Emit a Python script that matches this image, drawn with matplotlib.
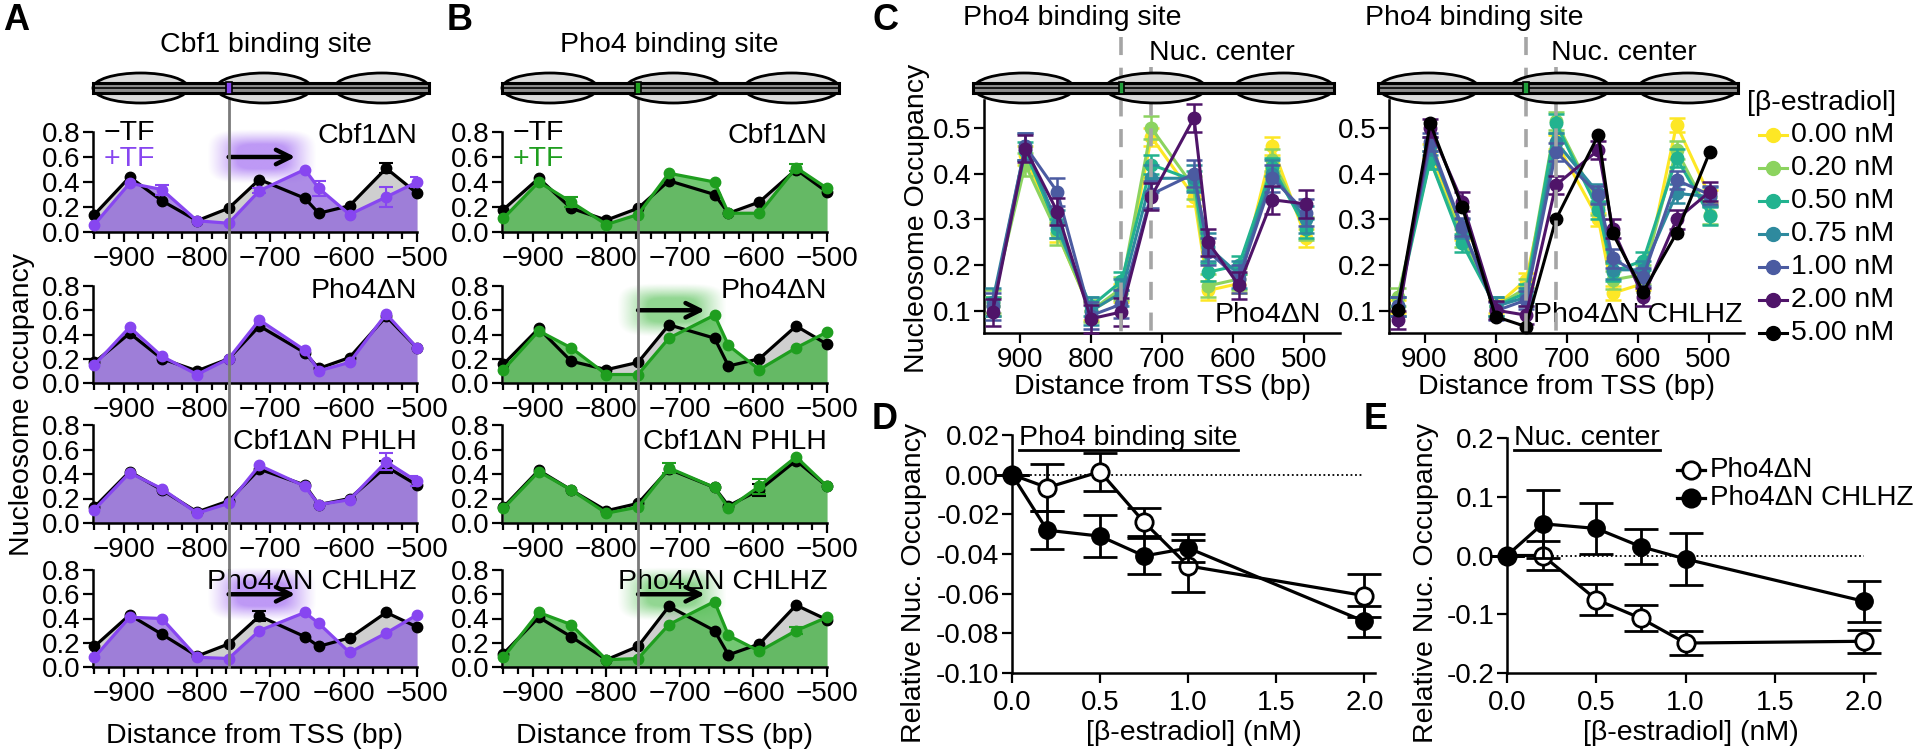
import numpy as np
import matplotlib
matplotlib.use("Agg")
import matplotlib.pyplot as plt
from matplotlib.patches import Ellipse, Rectangle
from matplotlib.lines import Line2D
from matplotlib.ticker import FormatStrFormatter

plt.rcParams['font.family'] = ['Liberation Sans', 'DejaVu Sans']
plt.rcParams['axes.linewidth'] = 1.8

# ---- data -------------------------------------------------------------
pos_a = [-940, -892, -848, -800, -757, -715, -653, -634, -592, -542, -500]
row_names = ['Cbf1ΔN', 'Pho4ΔN', 'Cbf1ΔN PHLH', 'Pho4ΔN CHLHZ']

# panel A (Cbf1 binding site), -TF / +TF
a1_minus = [0.14, 0.44, 0.25, 0.09, 0.19, 0.42, 0.27, 0.15, 0.21, 0.51, 0.31]
a1_plus = [0.06, 0.39, 0.34, 0.09, 0.07, 0.33, 0.50, 0.35, 0.14, 0.28, 0.40]
a2_minus = [0.17, 0.41, 0.20, 0.10, 0.20, 0.47, 0.25, 0.12, 0.21, 0.55, 0.29]
a2_plus = [0.15, 0.46, 0.22, 0.07, 0.20, 0.52, 0.27, 0.10, 0.17, 0.57, 0.29]
a3_minus = [0.13, 0.42, 0.27, 0.09, 0.18, 0.44, 0.31, 0.15, 0.20, 0.46, 0.31]
a3_plus = [0.11, 0.41, 0.28, 0.08, 0.16, 0.47, 0.30, 0.15, 0.19, 0.50, 0.34]
a4_minus = [0.17, 0.43, 0.27, 0.09, 0.19, 0.42, 0.25, 0.17, 0.24, 0.45, 0.33]
a4_plus = [0.08, 0.41, 0.40, 0.08, 0.07, 0.30, 0.45, 0.36, 0.12, 0.28, 0.43]
a1_minus_err = [0, 0, 0, 0, 0, 0, 0, 0, 0, 0.04, 0]
a1_plus_err = [0, 0, 0.04, 0, 0, 0.02, 0, 0.06, 0, 0.08, 0.04]
a3_minus_err = [0, 0, 0, 0, 0, 0, 0, 0, 0, 0.05, 0]
a3_plus_err = [0, 0, 0, 0, 0, 0, 0, 0, 0, 0.07, 0.04]
a4_minus_err = [0, 0, 0, 0, 0, 0.04, 0, 0, 0, 0, 0]

# panel B (Pho4 binding site)
b1_minus = [0.18, 0.43, 0.19, 0.095, 0.19, 0.41, 0.30, 0.15, 0.24, 0.50, 0.32]
b1_plus = [0.11, 0.40, 0.24, 0.06, 0.14, 0.47, 0.40, 0.15, 0.15, 0.515, 0.35]
b2_minus = [0.155, 0.45, 0.18, 0.11, 0.17, 0.48, 0.37, 0.14, 0.20, 0.47, 0.32]
b2_plus = [0.11, 0.43, 0.29, 0.07, 0.07, 0.37, 0.56, 0.31, 0.11, 0.29, 0.42]
b3_minus = [0.13, 0.43, 0.27, 0.10, 0.16, 0.44, 0.29, 0.14, 0.27, 0.51, 0.30]
b3_plus = [0.12, 0.42, 0.27, 0.08, 0.13, 0.45, 0.29, 0.12, 0.30, 0.54, 0.30]
b4_minus = [0.11, 0.41, 0.25, 0.06, 0.17, 0.50, 0.30, 0.10, 0.19, 0.51, 0.39]
b4_plus = [0.08, 0.45, 0.35, 0.06, 0.07, 0.35, 0.54, 0.26, 0.13, 0.30, 0.41]
b1_plus_err = [0, 0, 0.04, 0, 0, 0, 0, 0, 0, 0.03, 0]
b3_minus_err = [0, 0, 0, 0, 0, 0, 0, 0, 0.05, 0, 0]
b3_plus_err = [0, 0, 0, 0, 0, 0.04, 0, 0, 0.06, 0, 0]
b4_plus_err = [0, 0, 0, 0, 0, 0, 0, 0, 0, 0.03, 0]

# panel C (titration)
pos_c = [938, 892, 847, 800, 757, 715, 655, 635, 592, 545, 498]
conc_labels = ['0.00 nM', '0.20 nM', '0.50 nM', '0.75 nM', '1.00 nM', '2.00 nM', '5.00 nM']
conc_colors = ['#FDE725', '#8CD35F', '#22B38F', '#2E8A9E', '#4B5BA1', '#4F1469', '#000000']
c_left_000 = [0.11, 0.44, 0.27, 0.10, 0.14, 0.48, 0.35, 0.145, 0.16, 0.46, 0.26]
c_left_020 = [0.12, 0.42, 0.27, 0.10, 0.15, 0.50, 0.37, 0.155, 0.17, 0.43, 0.28]
c_left_050 = [0.11, 0.45, 0.28, 0.11, 0.165, 0.42, 0.385, 0.185, 0.20, 0.415, 0.28]
c_left_075 = [0.12, 0.46, 0.29, 0.10, 0.14, 0.39, 0.39, 0.24, 0.18, 0.40, 0.30]
c_left_100 = [0.11, 0.46, 0.36, 0.09, 0.115, 0.355, 0.40, 0.23, 0.17, 0.39, 0.315]
c_left_200 = [0.097, 0.455, 0.317, 0.083, 0.098, 0.35, 0.522, 0.25, 0.156, 0.343, 0.334]
c_right_000 = [0.11, 0.45, 0.27, 0.11, 0.168, 0.47, 0.30, 0.139, 0.16, 0.507, 0.35]
c_right_020 = [0.13, 0.43, 0.26, 0.11, 0.15, 0.515, 0.33, 0.168, 0.18, 0.452, 0.31]
c_right_050 = [0.11, 0.43, 0.248, 0.11, 0.14, 0.51, 0.32, 0.186, 0.21, 0.434, 0.308]
c_right_075 = [0.11, 0.46, 0.28, 0.11, 0.13, 0.47, 0.357, 0.19, 0.19, 0.357, 0.35]
c_right_100 = [0.11, 0.47, 0.284, 0.10, 0.124, 0.448, 0.354, 0.215, 0.175, 0.386, 0.354]
c_right_200 = [0.08, 0.50, 0.339, 0.102, 0.091, 0.375, 0.452, 0.28, 0.131, 0.30, 0.361]
c_right_500 = [0.102, 0.51, 0.328, 0.088, 0.066, 0.30, 0.485, 0.27, 0.142, 0.27, 0.448]
c_left_err = [0.02, 0.025, 0.02, 0.03, 0.03, 0.03]
c_right_err = [0.015, 0.02, 0.02, 0.02, 0.02, 0.02, 0.0]

# panels D and E (relative occupancy)
estradiol = [0, 0.2, 0.5, 0.75, 1.0, 2.0]
d_pho4 = [0, -0.0065, 0.0015, -0.024, -0.046, -0.061]
d_pho4_err = [0, 0.012, 0.0095, 0.007, 0.013, 0.011]
d_chlhz = [0, -0.028, -0.031, -0.041, -0.037, -0.074]
d_chlhz_err = [0, 0.0095, 0.0105, 0.009, 0.007, 0.008]
e_pho4 = [0, 0.0, -0.075, -0.107, -0.149, -0.146]
e_pho4_err = [0, 0.024, 0.026, 0.022, 0.02, 0.02]
e_chlhz = [0, 0.054, 0.046, 0.015, -0.006, -0.078]
e_chlhz_err = [0, 0.058, 0.044, 0.03, 0.044, 0.035]

# ---- layout helpers ---------------------------------------------------
W, H = 1920, 752
fig = plt.figure(figsize=(W / 100, H / 100), dpi=100)

FS = 20      # tick labels
LFS = 20.5   # axis labels and headings
PURPLE, PURPLE_FILL = '#8746F0', '#8a5cdc'
GREEN, GREEN_FILL = '#1f9e1f', '#38b138'


def add_ax(l, t, r, b):
    return fig.add_axes([l / W, 1 - b / H, (r - l) / W, (b - t) / H])


def fx(x):
    return x / W


def fy(y):
    return 1 - y / H


def style_spines(ax):
    ax.spines['top'].set_visible(False)
    ax.spines['right'].set_visible(False)
    ax.tick_params(which='both', direction='out', width=1.6, labelsize=FS)
    ax.tick_params(which='major', length=7)
    ax.tick_params(which='minor', length=5)


def glow(ax, x0, x1, y0, y1, rgb):
    # soft halo behind the shift arrow
    gx = np.linspace(-1, 1, 240)
    gy = np.linspace(-1, 1, 120)
    X, Y = np.meshgrid(gx, gy)
    d = (X ** 4 + Y ** 4) ** 0.25
    a = np.clip((1 - d) / 0.55, 0, 1) ** 1.2
    img = np.zeros((120, 240, 4))
    img[..., :3] = rgb
    img[..., 3] = 0.62 * a
    ax.imshow(img, extent=(x0, x1, y0, y1), aspect='auto',
              interpolation='bilinear', zorder=2.5, clip_on=False)


def draw_series(ax, y, err, color, z):
    ax.plot(pos_a, y, color=color, lw=2.3, marker='o', ms=7.5, zorder=z, clip_on=False)
    if err is not None:
        idx = [i for i, e in enumerate(err) if e > 0]
        ax.errorbar([pos_a[i] for i in idx], [y[i] for i in idx],
                    yerr=[err[i] for i in idx], fmt='none', ecolor=color,
                    elinewidth=1.5, capsize=5, capthick=1.5, zorder=z)


def occupancy_row(ax, name, minus, plus, color, fill, glow_rgb,
                  minus_err=None, plus_err=None, arrow=False, label_y=0.77):
    ax.fill_between(pos_a, minus, 0, color='#cfcfcf', lw=0, zorder=1)
    ax.fill_between(pos_a, plus, 0, color=fill, alpha=0.7, lw=0, zorder=2)
    if arrow:
        glow(ax, -786, -637, 0.38, 0.82, glow_rgb)
        ax.annotate('', xy=(-666, 0.6), xytext=(-757, 0.6), annotation_clip=False,
                    arrowprops=dict(arrowstyle='->', lw=3.2, color='black',
                                    mutation_scale=26, shrinkA=0, shrinkB=0),
                    zorder=6)
    draw_series(ax, minus, minus_err, 'black', 3)
    draw_series(ax, plus, plus_err, color, 4)
    ax.text(-500, label_y, name, ha='right', va='center', fontsize=LFS)
    ax.set_xlim(-942, -500)
    ax.set_ylim(0, 0.8)
    ax.set_xticks([-900, -800, -700, -600, -500])
    ax.set_xticks(np.arange(-940, -500, 20), minor=True)
    ax.set_yticks([0, 0.2, 0.4, 0.6, 0.8])
    ax.yaxis.set_major_formatter(FormatStrFormatter('%.1f'))
    style_spines(ax)
    ax.tick_params(axis='y', pad=2)
    ax.tick_params(axis='x', pad=3)


def diagram(l, r, xlim, bar, centers, width, site, site_color):
    ax = add_ax(l, 68, r, 108)
    ax.set_zorder(5)
    ax.set_xlim(xlim)
    ax.set_ylim(-1, 1)
    ax.axis('off')
    for c in centers:
        ax.add_patch(Ellipse((c, 0), width, 1.5, fc='#dcdcdc', ec='black',
                             lw=2, clip_on=False))
    ax.add_patch(Rectangle((min(bar), -0.24), abs(bar[1] - bar[0]), 0.48,
                           fc='#8c8c8c', ec='black', lw=2.2, clip_on=False))
    ax.plot(bar, [0, 0], color='black', lw=1.2, clip_on=False)
    ax.add_patch(Rectangle((site - 4, -0.28), 8, 0.56, fc=site_color,
                           ec='black', lw=1.2, clip_on=False, zorder=4))
    return ax


def fig_x(ax, x):
    px = ax.transData.transform((x, 0))[0]
    return px / W


# ---- panels A and B ---------------------------------------------------
row_px = [(132, 232), (286, 383), (425, 523), (570, 667)]
label_ys = [0.77, 0.76, 0.66, 0.70]

panels = [
    (93, 417, PURPLE, PURPLE_FILL, (150 / 255, 90 / 255, 240 / 255),
     [(a1_minus, a1_plus, a1_minus_err, a1_plus_err, True),
      (a2_minus, a2_plus, None, None, False),
      (a3_minus, a3_plus, a3_minus_err, a3_plus_err, False),
      (a4_minus, a4_plus, a4_minus_err, None, True)]),
    (502, 827, GREEN, GREEN_FILL, (80 / 255, 190 / 255, 80 / 255),
     [(b1_minus, b1_plus, None, b1_plus_err, False),
      (b2_minus, b2_plus, None, None, True),
      (b3_minus, b3_plus, b3_minus_err, b3_plus_err, False),
      (b4_minus, b4_plus, None, b4_plus_err, True)]),
]

for l, r, color, fill, grgb, rows in panels:
    first = None
    for i, (mn, pl, mn_err, pl_err, arrow) in enumerate(rows):
        t, b = row_px[i]
        ax = add_ax(l, t, r, b)
        occupancy_row(ax, row_names[i], mn, pl, color, fill, grgb,
                      mn_err, pl_err, arrow, label_ys[i])
        if first is None:
            first = ax
    diagram(l, r, (-942, -500), (-942, -484), [-877, -709, -548], 130, -757, color)
    xline = fig_x(first, -757)
    fig.add_artist(Line2D([xline, xline], [fy(88), fy(667)], color='#7a7a7a',
                          lw=2, zorder=1))
    fig.text(fx(l + 11), fy(133), '−TF', color='black', fontsize=LFS, va='center')
    fig.text(fx(l + 11), fy(159), '+TF', color=color, fontsize=LFS, va='center')

fig.text(fx(266), fy(45), 'Cbf1 binding site', ha='center', va='center', fontsize=LFS)
fig.text(fx(669), fy(45), 'Pho4 binding site', ha='center', va='center', fontsize=LFS)
fig.text(fx(22), fy(405), 'Nucleosome occupancy', rotation=90, ha='center',
         va='center', fontsize=LFS)
fig.text(fx(255), fy(736), 'Distance from TSS (bp)', ha='center', va='center', fontsize=LFS)
fig.text(fx(665), fy(736), 'Distance from TSS (bp)', ha='center', va='center', fontsize=LFS)

# ---- panel C ----------------------------------------------------------
c_left = [c_left_000, c_left_020, c_left_050, c_left_075, c_left_100, c_left_200]
c_right = [c_right_000, c_right_020, c_right_050, c_right_075, c_right_100,
           c_right_200, c_right_500]

for l, r, series, errs, name, name_x in [
        (984, 1340, c_left, c_left_err, 'Pho4ΔN', 476),
        (1389, 1744, c_right, c_right_err, 'Pho4ΔN CHLHZ', 452)]:
    ax = add_ax(l, 100, r, 333)
    for k, ys in enumerate(series):
        ax.errorbar(pos_c, ys, yerr=errs[k] if errs[k] > 0 else None,
                    color=conc_colors[k], lw=2.2, marker='o', ms=9,
                    elinewidth=1.8, capsize=6, capthick=1.8, zorder=3 + k,
                    clip_on=False)
    ax.set_xlim(950, 450)
    ax.set_ylim(0.052, 0.561)
    ax.set_xticks([900, 800, 700, 600, 500])
    ax.set_yticks([0.1, 0.2, 0.3, 0.4, 0.5])
    ax.yaxis.set_major_formatter(FormatStrFormatter('%.1f'))
    style_spines(ax)
    ax.tick_params(axis='y', pad=2)
    ax.tick_params(axis='x', pad=3)
    ax.text(name_x, 0.062, name, ha='right', va='bottom', fontsize=LFS)
    ax.set_xlabel('Distance from TSS (bp)', fontsize=LFS, labelpad=1)
    diagram(l, r, (950, 450), (966, 458), [894, 709, 529], 141, 757, '#1f9e3a')
    xb = fig_x(ax, 757)
    xn = fig_x(ax, 715)
    fig.add_artist(Line2D([xb, xb], [fy(37), fy(333)], color='#a5a5a5', lw=2.6,
                          ls=(0, (5, 3.5)), zorder=1))
    fig.add_artist(Line2D([xn, xn], [fy(67), fy(333)], color='#a5a5a5', lw=2.6,
                          ls=(0, (5, 3.5)), zorder=1))

fig.text(fx(1072), fy(18), 'Pho4 binding site', ha='center', va='center', fontsize=LFS)
fig.text(fx(1474), fy(18), 'Pho4 binding site', ha='center', va='center', fontsize=LFS)
fig.text(fx(1222), fy(53), 'Nuc. center', ha='center', va='center', fontsize=LFS)
fig.text(fx(1624), fy(53), 'Nuc. center', ha='center', va='center', fontsize=LFS)
fig.text(fx(917), fy(218), 'Nucleosome Occupancy', rotation=90, ha='center',
         va='center', fontsize=LFS)

# legend for C
fig.text(fx(1747), fy(103), '[β-estradiol]', ha='left', va='center', fontsize=LFS)
for k, lab in enumerate(conc_labels):
    yy = fy(135 + k * 33)
    fig.add_artist(Line2D([fx(1759), fx(1787)], [yy, yy], color=conc_colors[k], lw=2.2))
    fig.add_artist(Line2D([fx(1773)], [yy], color=conc_colors[k], marker='o', ms=10))
    fig.text(fx(1791), yy, lab, ha='left', va='center', fontsize=LFS)


# ---- panels D and E ---------------------------------------------------
def relative_panel(l, r, t, b, ylim, yticks, fmt, pho4, pho4_err, chlhz, chlhz_err):
    ax = add_ax(l, t, r, b)
    ax.plot([0, 2.0], [0, 0], color='black', lw=1.3, ls=(0, (1, 1.5)), zorder=1)
    ax.errorbar(estradiol, pho4, yerr=pho4_err, color='black', lw=2.3, marker='o',
                ms=12.5, mfc='white', mec='black', mew=2, elinewidth=2, capsize=12,
                capthick=2, zorder=3, clip_on=False)
    ax.errorbar(estradiol, chlhz, yerr=chlhz_err, color='black', lw=2.3, marker='o',
                ms=12.5, elinewidth=2, capsize=12, capthick=2, zorder=4, clip_on=False)
    ax.set_xlim(0, 2.06)
    ax.set_ylim(ylim)
    ax.set_xticks([0, 0.5, 1.0, 1.5, 2.0])
    ax.set_yticks(yticks)
    ax.xaxis.set_major_formatter(FormatStrFormatter('%.1f'))
    ax.yaxis.set_major_formatter(FormatStrFormatter(fmt))
    style_spines(ax)
    ax.tick_params(axis='y', pad=2)
    ax.tick_params(axis='x', pad=5)
    ax.set_xlabel('[β-estradiol] (nM)', fontsize=LFS, labelpad=3)
    return ax


ax_d = relative_panel(1012, 1375, 435, 673, (-0.10, 0.02),
                      [-0.10, -0.08, -0.06, -0.04, -0.02, 0.00, 0.02], '%.2f',
                      d_pho4, d_pho4_err, d_chlhz, d_chlhz_err)
ax_e = relative_panel(1507, 1875, 438, 673, (-0.2, 0.2),
                      [-0.2, -0.1, 0.0, 0.1, 0.2], '%.1f',
                      e_pho4, e_pho4_err, e_chlhz, e_chlhz_err)

fig.text(fx(914), fy(583), 'Relative Nuc. Occupancy', rotation=90, ha='center',
         va='center', fontsize=LFS)
fig.text(fx(1426), fy(583), 'Relative Nuc. Occupancy', rotation=90, ha='center',
         va='center', fontsize=LFS)
t_d = fig.text(fx(1019), fy(438), 'Pho4 binding site', ha='left', va='center', fontsize=LFS)
t_e = fig.text(fx(1514), fy(438), 'Nuc. center', ha='left', va='center', fontsize=LFS)

# legend for E
for yy, lab, face in [(470, 'Pho4ΔN', 'white'), (498, 'Pho4ΔN CHLHZ', 'black')]:
    fig.add_artist(Line2D([fx(1677), fx(1705)], [fy(yy)] * 2, color='black', lw=2.3))
    fig.add_artist(Line2D([fx(1691)], [fy(yy)], marker='o', ms=12.5, mfc=face,
                          mec='black', mew=2))
    fig.text(fx(1710), fy(yy), lab, ha='left', va='center', fontsize=FS)

# panel letters
for x, y, s in [(16, 20, 'A'), (460, 20, 'B'), (885, 20, 'C'), (885, 420, 'D'), (1376, 420, 'E')]:
    fig.text(fx(x), fy(y), s, ha='center', va='center', fontsize=26, fontweight='bold')

# underline the D/E headings
fig.canvas.draw()
rend = fig.canvas.get_renderer()
for t in (t_d, t_e):
    bb = t.get_window_extent(rend)
    fig.add_artist(Line2D([bb.x0 / W, bb.x1 / W], [(bb.y0 + 1) / H] * 2,
                          color='black', lw=2))

fig.savefig('out.png', dpi=100)
